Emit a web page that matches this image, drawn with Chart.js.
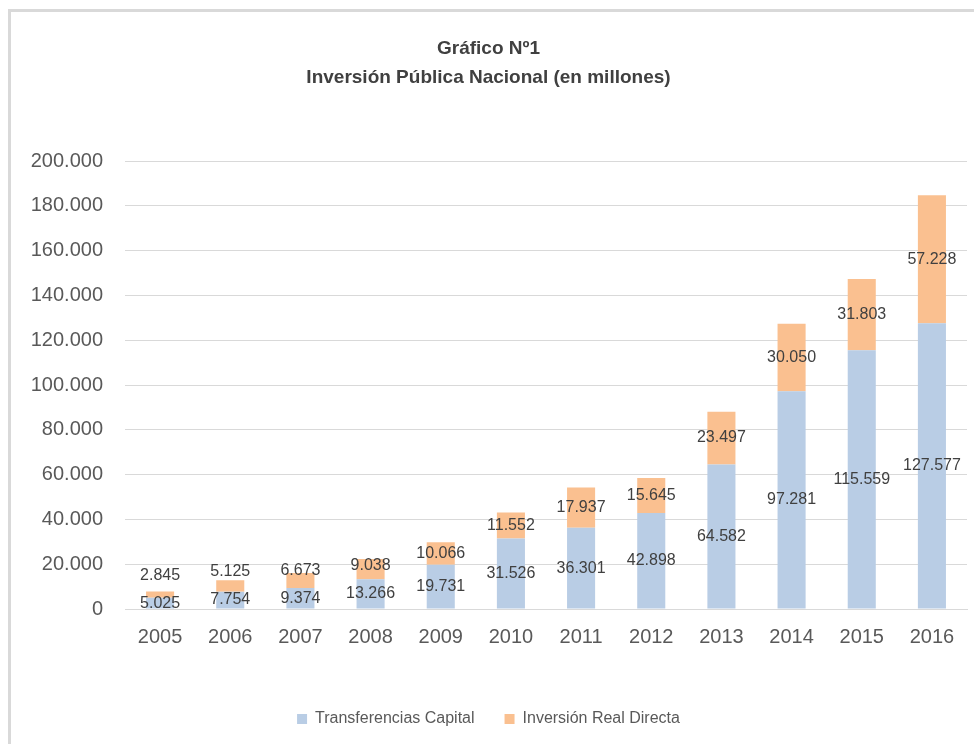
<!DOCTYPE html>
<html>
<head>
<meta charset="utf-8">
<script src="https://cdn.jsdelivr.net/npm/chart.js@4.4.1/dist/chart.umd.min.js"></script>
<style>
    html, body { margin: 0; padding: 0; background: #fff; }
    #wrap { position: relative; width: 974px; height: 744px; overflow: hidden; }
    #frame { position: absolute; left: 8px; top: 9px; width: 1000px; height: 800px; border-top: 3px solid #d9d9d9; border-left: 3px solid #d9d9d9; }
    canvas { position: absolute; left: 0; top: 0; }
</style>
</head>
<body>
<div id="wrap">
    <div id="frame"></div>
    <canvas id="inversionChart" width="974" height="744"></canvas>
</div>
<script>
const years = ['2005', '2006', '2007', '2008', '2009', '2010', '2011', '2012', '2013', '2014', '2015', '2016'];
const transferencias = [5025, 7754, 9374, 13266, 19731, 31526, 36301, 42898, 64582, 97281, 115559, 127577];
const inversionReal = [2845, 5125, 6673, 9038, 10066, 11552, 17937, 15645, 23497, 30050, 31803, 57228];
const yTicks = [0, 20000, 40000, 60000, 80000, 100000, 120000, 140000, 160000, 180000, 200000];

function fmt(v) {
    return String(v).replace(/\B(?=(\d{3})+(?!\d))/g, '.');
}

// etiquetas centradas en cada segmento
const segmentLabels = {
    id: 'segmentLabels',
    afterDatasetsDraw(chart) {
        const ctx = chart.ctx;
        const blue = chart.getDatasetMeta(0).data;
        const orange = chart.getDatasetMeta(1).data;
        ctx.save();
        ctx.font = '16px "Liberation Sans", Arial, sans-serif';
        ctx.fillStyle = '#404040';
        ctx.textAlign = 'center';
        ctx.textBaseline = 'middle';
        blue.forEach((bar, i) => {
            const yb = (bar.y + bar.base) / 2;
            ctx.fillText(fmt(transferencias[i]), bar.x, yb);
            const o = orange[i];
            let yo = (o.y + o.base) / 2;
            yo = Math.min(yo, yb - 28);
            ctx.fillText(fmt(inversionReal[i]), o.x, yo);
        });
        ctx.restore();
    }
};

const ctxInv = document.getElementById('inversionChart');
new Chart(ctxInv, {
    type: 'bar',
    data: {
        labels: years,
        datasets: [{
            label: 'Transferencias Capital',
            data: transferencias,
            backgroundColor: '#b9cde5',
            barPercentage: 0.4,
            categoryPercentage: 1
        }, {
            label: 'Inversión Real Directa',
            data: inversionReal,
            backgroundColor: '#fac090',
            barPercentage: 0.4,
            categoryPercentage: 1
        }]
    },
    options: {
        responsive: false,
        animation: false,
        layout: { padding: { left: 10, right: 7, top: 0, bottom: 7 } },
        plugins: {
            title: {
                display: true,
                text: ['Gráfico Nº1', 'Inversión Pública Nacional (en millones)'],
                color: '#404040',
                font: { family: '"Liberation Sans", Arial, sans-serif', size: 19, weight: 'bold', lineHeight: 1.53 },
                padding: { top: 34, bottom: 69 }
            },
            legend: {
                position: 'bottom',
                labels: {
                    color: '#595959',
                    font: { family: '"Liberation Sans", Arial, sans-serif', size: 16 },
                    boxWidth: 10,
                    boxHeight: 10,
                    padding: 30
                }
            },
            tooltip: { enabled: false }
        },
        scales: {
            x: {
                stacked: true,
                grid: { display: false, drawTicks: false },
                border: { display: true, color: '#d9d9d9', width: 1 },
                ticks: {
                    color: '#595959',
                    padding: 16,
                    font: { family: '"Liberation Sans", Arial, sans-serif', size: 20 }
                },
                afterFit(scale) { scale.height = 72; }
            },
            y: {
                stacked: true,
                min: 0,
                max: 200000,
                afterBuildTicks(scale) { scale.ticks = yTicks.map(v => ({ value: v })); },
                grid: { color: '#d9d9d9', drawTicks: false },
                border: { display: false },
                ticks: {
                    color: '#595959',
                    padding: 22,
                    font: { family: '"Liberation Sans", Arial, sans-serif', size: 20 },
                    callback: v => fmt(v)
                },
                afterFit(scale) { scale.width = 115; }
            }
        }
    },
    plugins: [segmentLabels]
});
</script>
</body>
</html>
